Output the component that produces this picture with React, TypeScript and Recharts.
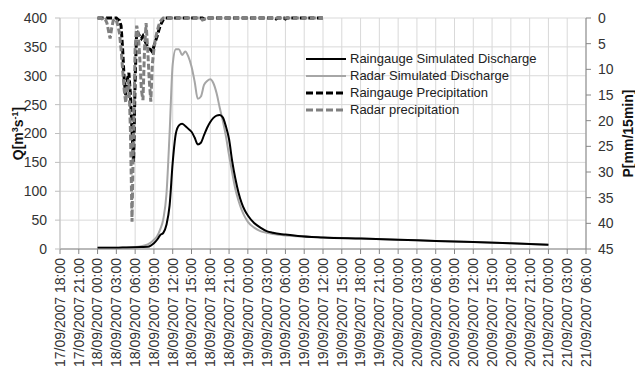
import React from 'react';
import { ComposedChart, Line, XAxis, YAxis, CartesianGrid, Legend } from 'recharts';

// time in hours since 17/09/2007 18:00
const xTicks = [0, 3, 6, 9, 12, 15, 18, 21, 24, 27, 30, 33, 36, 39, 42, 45, 48, 51, 54, 57, 60, 63, 66, 69, 72, 75, 78, 81, 84];
const qTicks = [0, 50, 100, 150, 200, 250, 300, 350, 400];
const pTicks = [0, 5, 10, 15, 20, 25, 30, 35, 40, 45];

const qTimes = [6, 8, 10, 12, 13, 14, 14.5, 15, 15.5, 16, 16.5, 17, 17.5, 18, 18.5, 19, 19.5, 20, 20.5, 21, 21.5, 22, 22.5, 23, 23.5, 24, 24.5, 25, 25.5, 26, 26.5, 27, 27.5, 28, 28.5, 29, 29.5, 30, 31, 32, 33, 34, 36, 38, 42, 48, 54, 60, 66, 72, 78];
const qRaingauge = [2, 2, 2.5, 3, 3.5, 4, 6, 10, 16, 24, 28, 42, 75, 150, 200, 214, 217, 213, 208, 203, 193, 181, 184, 197, 210, 220, 227, 231, 232, 228, 212, 190, 152, 122, 98, 80, 67, 58, 45, 37, 31, 28, 25, 22.5, 20, 18, 16, 14, 12, 10, 7.5];
const qRadar = [2, 2, 2.5, 3.5, 5, 8, 11, 16, 22, 34, 52, 95, 200, 320, 346, 346, 336, 342, 333, 316, 290, 260, 264, 284, 291, 294, 287, 270, 245, 222, 195, 162, 132, 104, 84, 68, 56, 47, 37, 31, 28, 26, 23.5, 22, 20, 18, 16, 14, 12, 10, 7.5];

const pTimes = [6, 6.25, 6.5, 6.75, 7, 7.25, 7.5, 7.75, 8, 8.25, 8.5, 8.75, 9, 9.25, 9.5, 9.75, 10, 10.25, 10.5, 10.75, 11, 11.25, 11.5, 11.75, 12, 12.25, 12.5, 12.75, 13, 13.25, 13.5, 13.75, 14, 14.25, 14.5, 14.75, 15, 15.25, 15.5, 15.75, 16, 16.25, 16.5, 16.75, 17, 20, 22.5, 22.75, 23, 23.25, 23.5, 30, 34.25, 34.5, 34.75, 35.75, 36, 36.25, 42];
const pRaingauge = [0, 0, 0, 0, 0, 0, 0, 0, 0, 0, 0, 0, 0, 0.3, 0.5, 1.5, 6, 12, 15, 12, 10.7, 15, 22, 28, 12, 2.5, 3, 3.6, 4, 3.5, 4.2, 5, 5.6, 6, 6.2, 6.6, 5.5, 4.5, 3.6, 2.5, 1.5, 0.9, 0.3, 0, 0, 0, 0, 0, 0.2, 0.2, 0, 0, 0, 0.2, 0, 0, 0.2, 0, 0];
const pRadar = [0, 0, 0, 0.2, 0.5, 0.3, 1, 2.5, 4, 2, 0.5, 0.2, 0.5, 1.5, 3, 6, 10, 14, 16.5, 13, 12, 22, 39.7, 22, 6, 1.5, 3, 8, 14, 16, 6, 1, 6, 12, 16.3, 9, 6, 4, 2.7, 1.5, 0.7, 0.3, 0, 0, 0, 0, 0, 0.4, 0.3, 0, 0, 0, 0, 0, 0, 0, 0, 0, 0];

const FONT = '"Liberation Sans", Arial, sans-serif';

const rows = new Map<number, any>();
const put = (t: number, key: string, v: number) => {
  const r = rows.get(t) ?? { t };
  r[key] = v;
  rows.set(t, r);
};
qTimes.forEach((t, i) => { put(t, 'qg', qRaingauge[i]); put(t, 'qr', qRadar[i]); });
pTimes.forEach((t, i) => { put(t, 'pg', pRaingauge[i]); put(t, 'pr', pRadar[i]); });
const data = Array.from(rows.values()).sort((a, b) => a.t - b.t);

const pad = (n: number) => (n < 10 ? '0' + n : '' + n);
const fmtTime = (h: number) => {
  const total = 18 + h;
  const day = 17 + Math.floor(total / 24);
  const hour = total % 24;
  return `${pad(day)}/09/2007 ${pad(hour)}:00`;
};

const XTick = (props: any) => {
  const { x, y, payload } = props;
  const ty = y + 2;
  return (
    <text x={x} y={ty} transform={`rotate(-90, ${x}, ${ty})`} textAnchor="end" dy="0.35em" fontSize={14} fontFamily={FONT} fill="#333">
      {fmtTime(payload.value)}
    </text>
  );
};

const legendItems = [
  { label: 'Raingauge Simulated Discharge', color: '#000000', width: 2, dash: undefined },
  { label: 'Radar Simulated Discharge', color: '#a6a6a6', width: 2, dash: undefined },
  { label: 'Raingauge Precipitation', color: '#000000', width: 3, dash: '7 3' },
  { label: 'Radar precipitation', color: '#808080', width: 3, dash: '7 3' },
];

const LegendBox = () => (
  <div style={{ fontFamily: FONT, fontSize: 13, color: '#222' }}>
    {legendItems.map((it) => (
      <div key={it.label} style={{ display: 'flex', alignItems: 'center', height: 17 }}>
        <svg width={40} height={6} style={{ display: 'block' }}>
          <line x1={0} y1={3} x2={40} y2={3} stroke={it.color} strokeWidth={it.width} strokeDasharray={it.dash} />
        </svg>
        <span style={{ marginLeft: 4, whiteSpace: 'nowrap' }}>{it.label}</span>
      </div>
    ))}
  </div>
);

const QLabel = (props: any) => {
  const vb = props.viewBox;
  const x = vb.x + 18;
  const y = vb.y + vb.height / 2;
  return (
    <text x={x} y={y} transform={`rotate(-90, ${x}, ${y})`} textAnchor="middle" dy="0.35em" fontSize={14} fontWeight="bold" fontFamily={FONT} fill="#111">
      <tspan>Q[m</tspan>
      <tspan dy={-5} fontSize={9}>3</tspan>
      <tspan dy={5}>s</tspan>
      <tspan dy={-5} fontSize={9}>-1</tspan>
      <tspan dy={5}>]</tspan>
    </text>
  );
};

const PLabel = (props: any) => {
  const vb = props.viewBox;
  const x = vb.x + 42;
  const y = vb.y + vb.height / 2;
  return (
    <text x={x} y={y} transform={`rotate(-90, ${x}, ${y})`} textAnchor="middle" dy="0.35em" fontSize={14} fontWeight="bold" fontFamily={FONT} fill="#111">
      P[mm/15min]
    </text>
  );
};

export default function App() {
  return (
    <div style={{ position: 'fixed', left: 0, top: 0, width: 635, height: 372, background: '#fff' }}>
      <ComposedChart width={635} height={372} data={data} margin={{ top: 18, right: 0, bottom: 0, left: 0 }}>
        <CartesianGrid stroke="#d9d9d9" xAxisId="x" yAxisId="q" verticalValues={xTicks} />
        <XAxis
          xAxisId="x"
          dataKey="t"
          type="number"
          domain={[0, 84]}
          ticks={xTicks}
          interval={0}
          height={123}
          tick={<XTick />}
          tickSize={5}
          stroke="#868686"
          allowDataOverflow
        />
        <YAxis
          yAxisId="q"
          domain={[0, 400]}
          ticks={qTicks}
          width={60}
          tickSize={5}
          tickMargin={8}
          stroke="#bfbfbf"
          tick={{ fill: '#333', fontSize: 14, fontFamily: FONT }}
          label={<QLabel />}
        />
        <YAxis
          yAxisId="p"
          orientation="right"
          reversed
          domain={[0, 45]}
          ticks={pTicks}
          width={49}
          tickSize={5}
          tickMargin={7}
          stroke="#868686"
          tick={{ fill: '#333', fontSize: 14, fontFamily: FONT }}
          label={<PLabel />}
        />
        <Legend
          layout="vertical"
          align="center"
          verticalAlign="middle"
          content={<LegendBox />}
          wrapperStyle={{ left: 306, top: 50, width: 260 }}
        />
        <Line xAxisId="x" yAxisId="q" dataKey="qr" name="Radar Simulated Discharge" type="monotone" stroke="#a6a6a6" strokeWidth={2} dot={false} connectNulls isAnimationActive={false} />
        <Line xAxisId="x" yAxisId="q" dataKey="qg" name="Raingauge Simulated Discharge" type="monotone" stroke="#000000" strokeWidth={2} dot={false} connectNulls isAnimationActive={false} />
        <Line xAxisId="x" yAxisId="p" dataKey="pg" name="Raingauge Precipitation" type="linear" stroke="#000000" strokeWidth={3} strokeDasharray="6 2.5" dot={false} connectNulls isAnimationActive={false} />
        <Line xAxisId="x" yAxisId="p" dataKey="pr" name="Radar precipitation" type="linear" stroke="#808080" strokeWidth={3} strokeDasharray="6 2.5" dot={false} connectNulls isAnimationActive={false} />
      </ComposedChart>
    </div>
  );
}
